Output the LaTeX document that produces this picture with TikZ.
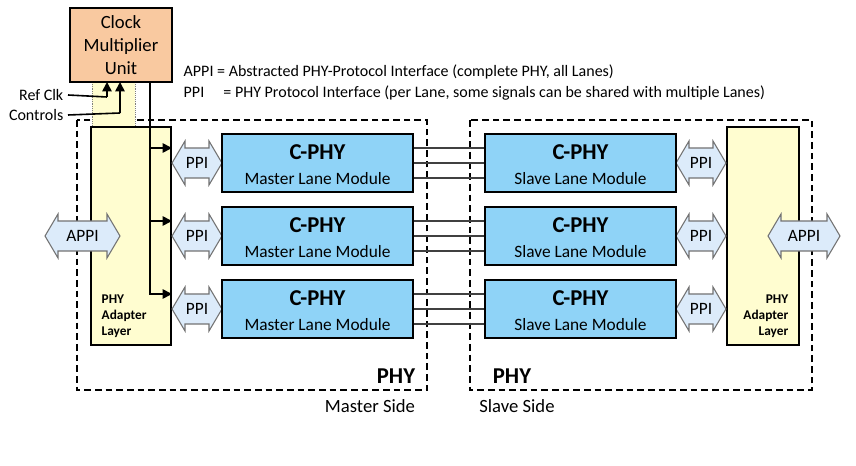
\documentclass[tikz,border=0pt]{standalone}
\usepackage{fontspec}
\setmainfont{Carlito}
\usetikzlibrary{arrows.meta}
\definecolor{orng}{HTML}{F9C9A0}
\definecolor{ylw}{HTML}{FFFDD0}
\definecolor{modb}{HTML}{8FD3F7}
\definecolor{ppib}{HTML}{DCEBFA}
\tikzset{
  mod/.style={draw,line width=1.3pt,fill=modb,minimum width=143pt,minimum height=44pt,inner sep=0pt},
  dbl/.style={draw=black!55,line width=0.8pt,fill=ppib},
  dsh/.style={line width=0.9pt,dash pattern=on 5pt off 3pt},
  ln/.style={line width=1.2pt},
  arr/.style={line width=1.3pt,-{Triangle[length=7pt,width=7pt]}}
}
\newcommand{\dblarrow}[5]{% x1,x2,yc,name,text
  \path[dbl] (#1,#3) -- (#1+13,#3-22) -- (#1+13,#3-15) -- (#2-13,#3-15) -- (#2-13,#3-22) -- (#2,#3) -- (#2-13,#3+22) -- (#2-13,#3+15) -- (#1+13,#3+15) -- (#1+13,#3+22) -- cycle;
  \node[font=\fontsize{13}{13}\selectfont] (#4) at ({(#1+#2)/2},#3) {#5};}
\begin{document}
\begin{tikzpicture}[x=0.75pt,y=-0.75pt]
\useasboundingbox[fill=white] (0,0) rectangle (856,466);
% dashed boxes
\draw[dsh] (77,120) rectangle (427,390);
\draw[dsh] (470,120) rectangle (812,390);
% yellow link
\fill[ylw] (92,82) rectangle (135,127);
\draw[densely dotted,black!50] (92,82) -- (92,127) (135,82) -- (135,127);
% adapters
\node[draw,line width=1.2pt,fill=ylw,minimum width=60pt,minimum height=163.5pt,inner sep=0pt] (adl) at (131,236) {};
\node[draw,line width=1.2pt,fill=ylw,minimum width=54pt,minimum height=163.5pt,inner sep=0pt] (adr) at (763,236) {};
\node[font=\bfseries\fontsize{10}{12}\selectfont,align=left,anchor=west] (adlt) at (97,316) {PHY\\Adapter\\Layer};
\node[font=\bfseries\fontsize{10}{12}\selectfont,align=right,anchor=east] (adrt) at (793,316) {PHY\\Adapter\\Layer};
% clock
\node[draw,line width=1.3pt,fill=orng,minimum width=76.5pt,minimum height=55.5pt,align=center,font=\fontsize{14}{17}\selectfont] (clk) at (121,45) {Clock\\Multiplier\\Unit};
\node[anchor=east,font=\fontsize{12}{12}\selectfont] (ref) at (68,95) {Ref Clk};
\node[anchor=east,font=\fontsize{12}{12}\selectfont] (ctl) at (68,115) {Controls};
\coordinate (r1) at (107,97); \coordinate (r2) at (120,113);
\draw[ln] (ref.east) -- (r1); \draw[arr] (r1) -- (107,82);
\draw[ln] (ctl.east) -- (r2); \draw[arr] (r2) -- (120,82);
% legend
\node[anchor=west,font=\fontsize{12}{12}\selectfont] (l1) at (179,72) {APPI = Abstracted PHY-Protocol Interface (complete PHY, all Lanes)};
\node[anchor=west,font=\fontsize{12}{12}\selectfont] (l2) at (179,93) {PPI\hspace{1.2em}= PHY Protocol Interface (per Lane, some signals can be shared with multiple Lanes)};
% APPI
\dblarrow{45}{120}{236}{appil}{APPI}
\dblarrow{768}{840}{236}{appir}{APPI}
% lanes
\foreach \i/\y in {1/163,2/236,3/309}{
  \dblarrow{172}{222}{\y}{ppl\i}{PPI}
  \dblarrow{676}{726}{\y}{ppr\i}{PPI}
  \node[mod] (m\i) at (317.5,\y) {};
  \node[mod] (s\i) at (580.5,\y) {};
  \node[font=\bfseries\fontsize{17}{17}\selectfont] (mt\i) at (317.5,\y-11) {C-PHY};
  \node[font=\fontsize{13}{13}\selectfont] (mb\i) at (317.5,\y+16) {Master Lane Module};
  \node[font=\bfseries\fontsize{17}{17}\selectfont] (st\i) at (580.5,\y-11) {C-PHY};
  \node[font=\fontsize{13}{13}\selectfont] (sb\i) at (580.5,\y+16) {Slave Lane Module};
  \foreach \d in {-15,0,15}
    \draw[line width=1pt,black!75] (m\i.east |- 0,\y+\d) -- (s\i.west |- 0,\y+\d);
  \draw[arr] (150,\y-15) -- (172,\y-15);
}
\draw[ln] (150,82) -- (150,295);
% PHY labels
\node[font=\bfseries\fontsize{17}{17}\selectfont] (p1) at (396,376) {PHY};
\node[font=\bfseries\fontsize{17}{17}\selectfont] (p2) at (512,376) {PHY};
\node[font=\fontsize{14}{14}\selectfont] (ms) at (370,406) {Master Side};
\node[font=\fontsize{14}{14}\selectfont] (ss) at (517,406) {Slave Side};
\end{tikzpicture}
\end{document}
